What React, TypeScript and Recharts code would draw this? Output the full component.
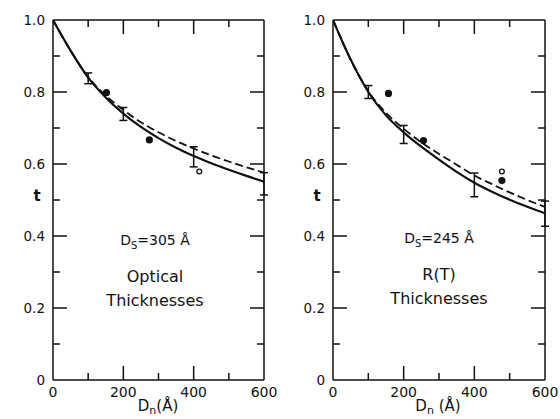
import React from 'react';
import { ComposedChart, Line, Scatter, ErrorBar, XAxis, YAxis } from 'recharts';

// ---- axis ticks ----
const xTicks = [0, 100, 200, 300, 400, 500, 600];
const xLabels = [0, 200, 400, 600];
const yTicks = [0, 0.1, 0.2, 0.3, 0.4, 0.5, 0.6, 0.7, 0.8, 0.9, 1.0];
const yLabels = ['0', '0.2', '0.4', '0.6', '0.8', '1.0'];

// ---- theory curves (shared x grid) ----
const curveX = [0, 50, 100, 150, 200, 250, 300, 350, 400, 450, 500, 550, 600];
const opticalSolid = [1.0, 0.915, 0.84, 0.785, 0.74, 0.703, 0.672, 0.645, 0.622, 0.602, 0.584, 0.567, 0.551];
const opticalDashed = [1.0, 0.915, 0.842, 0.79, 0.75, 0.716, 0.688, 0.664, 0.643, 0.624, 0.607, 0.591, 0.576];
const rtSolid = [1.0, 0.89, 0.8, 0.735, 0.688, 0.648, 0.612, 0.578, 0.548, 0.523, 0.501, 0.481, 0.463];
const rtDashed = [1.0, 0.89, 0.802, 0.742, 0.698, 0.66, 0.628, 0.598, 0.568, 0.544, 0.521, 0.5, 0.481];

// ---- measured points with error bars ----
const opticalBarX = [100, 200, 400, 600];
const opticalBarT = [0.838, 0.739, 0.62, 0.545];
const opticalBarErr = [0.015, 0.018, 0.028, 0.031];
const rtBarX = [100, 200, 400, 600];
const rtBarT = [0.8, 0.682, 0.542, 0.462];
const rtBarErr = [0.018, 0.025, 0.033, 0.035];

// ---- filled and open dots ----
const opticalDotX = [152, 274];
const opticalDotT = [0.798, 0.667];
const opticalOpenX = [416];
const opticalOpenT = [0.579];
const rtDotX = [157, 256, 478];
const rtDotT = [0.796, 0.665, 0.554];
const rtOpenX = [478];
const rtOpenT = [0.579];

const FONT = '"DejaVu Sans", sans-serif';
const INK = '#111';

const pts = (xs: number[], ys: number[]) => xs.map((x, i) => ({ x, y: ys[i] }));
const bars = (xs: number[], ys: number[], es: number[]) => xs.map((x, i) => ({ x, y: ys[i], e: es[i] }));

const BottomTick = (props: any) => {
  const { x, y, payload } = props;
  const v = payload.value;
  const len = v === 0 || v === 600 ? 0 : v % 200 === 0 ? 14 : 7;
  return (
    <g>
      {len > 0 && <line x1={x} y1={y} x2={x} y2={y - len} stroke={INK} strokeWidth={1.5} />}
      {xLabels.includes(v) && (
        <text x={x} y={y + 17} textAnchor="middle" fontSize={14} fontFamily={FONT} fill={INK}>
          {v}
        </text>
      )}
    </g>
  );
};

const TopTick = (props: any) => {
  const { x, y, payload } = props;
  const v = payload.value;
  const len = v === 0 || v === 600 ? 0 : v % 200 === 0 ? 14 : 7;
  return <g>{len > 0 && <line x1={x} y1={y} x2={x} y2={y + len} stroke={INK} strokeWidth={1.5} />}</g>;
};

const isMajorY = (v: number) => Math.round(v * 10) % 2 === 0;

const LeftTick = (props: any) => {
  const { x, y, payload } = props;
  const v = payload.value;
  const edge = v < 0.05 || v > 0.95;
  const len = edge ? 0 : isMajorY(v) ? 14 : 7;
  const label = isMajorY(v) ? yLabels[Math.round(v * 5)] : null;
  return (
    <g>
      {len > 0 && <line x1={x} y1={y} x2={x + len} y2={y} stroke={INK} strokeWidth={1.5} />}
      {label && (
        <text x={x - 8} y={y + 5} textAnchor="end" fontSize={13.5} fontFamily={FONT} fill={INK}>
          {label}
        </text>
      )}
    </g>
  );
};

const RightTick = (props: any) => {
  const { x, y, payload } = props;
  const v = payload.value;
  const edge = v < 0.05 || v > 0.95;
  const len = edge ? 0 : isMajorY(v) ? 14 : 7;
  return <g>{len > 0 && <line x1={x} y1={y} x2={x - len} y2={y} stroke={INK} strokeWidth={1.5} />}</g>;
};

const Dot = (p: any) => <circle cx={p.cx} cy={p.cy} r={3.6} fill={INK} />;
const OpenDot = (p: any) => <circle cx={p.cx} cy={p.cy} r={2.4} fill="#fff" stroke={INK} strokeWidth={1.3} />;
const NoShape = () => <g />;

type PanelProps = {
  left: number;
  rightMargin: number;
  solid: number[];
  dashed: number[];
  barData: { x: number; y: number; e: number }[];
  dots: { x: number; y: number }[];
  open: { x: number; y: number }[];
  dsText: string;
  line1: string;
  xLabelGap: string;
  textX: number;
  textY: [number, number, number];
};

const Panel = (p: PanelProps) => {
  const solidData = pts(curveX, p.solid);
  const dashedData = pts(curveX, p.dashed);
  const axisLine = { stroke: INK, strokeWidth: 1.5 };
  return (
    <div style={{ position: 'absolute', left: p.left, top: 0, width: 280, height: 419 }}>
      <ComposedChart width={280} height={419} margin={{ top: 19, right: p.rightMargin - 1, bottom: 0, left: 52 }}>
        <XAxis
          xAxisId="b"
          dataKey="x"
          type="number"
          domain={[0, 600]}
          ticks={xTicks}
          interval={0}
          orientation="bottom"
          height={39}
          tickSize={0}
          tickMargin={0}
          tickLine={false}
          axisLine={axisLine}
          tick={<BottomTick />}
          allowDataOverflow
        />
        <XAxis
          xAxisId="t"
          dataKey="x"
          type="number"
          domain={[0, 600]}
          ticks={xTicks}
          interval={0}
          orientation="top"
          height={1}
          tickSize={0}
          tickMargin={0}
          tickLine={false}
          axisLine={axisLine}
          tick={<TopTick />}
          allowDataOverflow
        />
        <YAxis
          yAxisId="l"
          dataKey="y"
          type="number"
          domain={[0, 1]}
          ticks={yTicks}
          interval={0}
          orientation="left"
          width={1}
          tickSize={0}
          tickMargin={0}
          tickLine={false}
          axisLine={axisLine}
          tick={<LeftTick />}
          allowDataOverflow
        />
        <YAxis
          yAxisId="r"
          dataKey="y"
          type="number"
          domain={[0, 1]}
          ticks={yTicks}
          interval={0}
          orientation="right"
          width={1}
          tickSize={0}
          tickMargin={0}
          tickLine={false}
          axisLine={axisLine}
          tick={<RightTick />}
          allowDataOverflow
        />
        <Line
          xAxisId="t"
          yAxisId="r"
          data={solidData}
          dataKey="y"
          stroke="none"
          dot={false}
          isAnimationActive={false}
        />
        <Line
          xAxisId="b"
          yAxisId="l"
          data={dashedData}
          dataKey="y"
          type="monotone"
          stroke={INK}
          strokeWidth={1.8}
          strokeDasharray="8 4"
          dot={false}
          isAnimationActive={false}
        />
        <Line
          xAxisId="b"
          yAxisId="l"
          data={solidData}
          dataKey="y"
          type="monotone"
          stroke={INK}
          strokeWidth={2.2}
          dot={false}
          isAnimationActive={false}
        />
        <Scatter xAxisId="b" yAxisId="l" data={p.barData} dataKey="y" shape={<NoShape />} isAnimationActive={false}>
          <ErrorBar dataKey="e" direction="y" width={4} stroke={INK} strokeWidth={1.5} isAnimationActive={false} />
        </Scatter>
        <Scatter xAxisId="b" yAxisId="l" data={p.dots} dataKey="y" shape={<Dot />} isAnimationActive={false} />
        <Scatter xAxisId="b" yAxisId="l" data={p.open} dataKey="y" shape={<OpenDot />} isAnimationActive={false} />

        <text x={37} y={201} textAnchor="middle" fontSize={15} fontWeight="bold" fontFamily={FONT} fill={INK}>
          t
        </text>
        <text x={p.textX} y={p.textY[0]} textAnchor="middle" fontSize={14} fontFamily={FONT} fill={INK}>
          D<tspan dy={4} fontSize={10}>S</tspan>
          <tspan dy={-4}>{p.dsText}</tspan>
        </text>
        <text x={p.textX} y={p.textY[1]} textAnchor="middle" fontSize={16} fontFamily={FONT} fill={INK}>
          {p.line1}
        </text>
        <text x={p.textX} y={p.textY[2]} textAnchor="middle" fontSize={16} fontFamily={FONT} fill={INK}>
          Thicknesses
        </text>
        <text x={158} y={411} textAnchor="middle" fontSize={15} fontFamily={FONT} fill={INK}>
          D<tspan dy={3} fontSize={11}>n</tspan>
          <tspan dy={-3}>{p.xLabelGap}(Å)</tspan>
        </text>
      </ComposedChart>
    </div>
  );
}

export default function App() {
  return (
    <div style={{ position: 'absolute', left: 0, top: 0, width: 560, height: 419, background: '#fff' }}>
      <Panel
        left={0}
        rightMargin={16}
        solid={opticalSolid}
        dashed={opticalDashed}
        barData={bars(opticalBarX, opticalBarT, opticalBarErr)}
        dots={pts(opticalDotX, opticalDotT)}
        open={pts(opticalOpenX, opticalOpenT)}
        dsText="=305 Å"
        line1="Optical"
        xLabelGap=""
        textX={155}
        textY={[245, 282, 306]}
      />
      <Panel
        left={280}
        rightMargin={15}
        solid={rtSolid}
        dashed={rtDashed}
        barData={bars(rtBarX, rtBarT, rtBarErr)}
        dots={pts(rtDotX, rtDotT)}
        open={pts(rtOpenX, rtOpenT)}
        dsText="=245 Å"
        line1="R(T)"
        xLabelGap=" "
        textX={159}
        textY={[243, 280, 304]}
      />
    </div>
  );
}
